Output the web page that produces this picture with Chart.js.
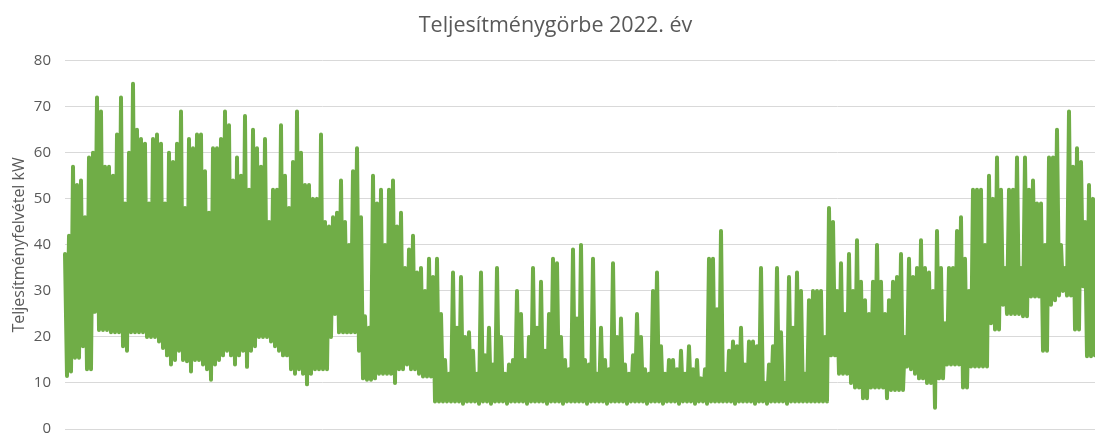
<!DOCTYPE html>
<html>
<head>
<meta charset="utf-8">
<script src="https://cdn.jsdelivr.net/npm/chart.js@4"></script>
<style>
html,body{margin:0;padding:0;background:#fff;overflow:hidden}
</style>
</head>
<body>
<canvas id="c" width="1095" height="433"></canvas>
<script>
// Title texts
const chartTitle = 'Teljesítménygörbe 2022. év';
const yAxisTitle = 'Teljesítményfelvétel kW';
const yTickValues = [0, 10, 20, 30, 40, 50, 60, 70, 80];

// Load (kW), per month: alternating local peak / local trough
const januar = [38,11.5, 42,12.5, 57,15.5, 53,15.5, 54,18, 46,13, 59,13, 60,25.5, 72,21.5, 69,21.5, 57,21.5,
  57,21, 55,21, 64,21, 72,18, 49,17, 60,21, 75,21, 65,21, 63,21, 62,20, 49,20];
const februar = [63,20, 64,19, 62,17.6, 49,16, 60,14, 58,15, 62,17, 69,15, 48,14.7, 63,12.5, 61,15, 64,15,
  64,14, 56,13, 47,10.7, 61,14, 61,15, 63,16, 69,17, 66,16];
const marcius = [54,14, 59,16, 55,17, 68,13.5, 52,17, 65,18, 61,20, 57,20, 63,20, 45,19, 52,18, 52,17,
  66,16, 55,16, 48,13, 58,12, 69,13, 60,12, 53,9.7, 53,12, 50,13, 50,13];
const aprilis = [64,13, 45,13, 44,20, 46,25, 47,21, 54,21, 45,21, 40,21, 56,21, 61,17, 46,11, 24.5,10.7,
  22,10.7, 55,11, 49,12, 52,12, 40,12, 52,12, 54,10, 44,13, 47,13];
const majus = [35,14, 39,13, 42,13, 34,12, 35,11.4, 30,11.4, 37,11.4, 33,6, 37,6, 25,6, 15,6, 12,6,
  34,6, 22,6, 33,5.5, 20,6, 21,6, 17,6, 12,5.5, 34,6, 16,6, 22,5.5];
const junius = [14,6, 35,6, 20,6, 12,5.5, 14,6, 15,6, 30,6, 25,6, 15,5.5, 20,6, 35,6, 22,6, 32,6,
  17,5.5, 25,6, 37,6, 36,6, 20,5.5, 15,6, 13,6, 39,6];
const julius = [24,6, 40,6, 15,5.5, 14,6, 37,6, 12,6, 22,6, 15,5.5, 13,6, 36,6, 20,6, 24,6, 14,5.5,
  12,6, 16,6, 25,6, 20,6, 13,5.5, 12,6, 30,6, 34,6, 18,5.5];
const augusztus = [12,6, 15,6, 15,6, 13,5.5, 17,6, 12,6, 18,6, 13,5.5, 15,6, 11,6, 13,5.5, 37,6, 37,6,
  26,6, 43,6, 12,6, 17,6, 19,5.5, 18,6, 22,6, 14,6, 19,6];
const szeptember = [19,5.5, 18,6, 35,6, 10,5.5, 14,6, 18,6, 35,6, 21,6, 10,5.5, 33,6, 22,6, 34,6, 30,6,
  12,6, 28,6, 30,6, 30,6, 30,6, 20,6, 48,16, 45,16];
const oktober = [30,12, 36,12, 25,12, 38,10, 30,9, 41,9, 32,6.7, 28,6.7, 25,9, 32,9, 40,9, 32,9, 25,6.7,
  28,8.5, 32,8.5, 33,8.5, 38,8.5, 20,13.6, 37,13, 33,12, 35,11, 41,11];
const november = [35,10, 34,10, 30,4.6, 43,11, 35,11, 23,14, 35,14, 35,14, 43,14, 46,9, 37,9, 30,13.6,
  52,13.6, 52,13.6, 52,13.6, 40,13.6, 55,23, 50,21.6, 59,21.6, 52,27, 35,25];
const december = [52,25, 52,25, 59,25, 35,24.5, 59,24.5, 52,28.8, 54,28.8, 49,28.8, 49,17, 40,17, 59,27,
  59,28, 65,29, 40,30, 35,29, 69,29, 57,21.6, 61,21.6, 58,31, 45,15.8, 53,15.8, 50,16];

const loadValues = [].concat(januar, februar, marcius, aprilis, majus, junius, julius,
  augusztus, szeptember, oktober, november, december);
const sampleLabels = loadValues.map((_, i) => i);

const GREY = '#595959';
new Chart(document.getElementById('c'), {
  type: 'line',
  data: {
    labels: sampleLabels,
    datasets: [{
      label: 'Teljesítményfelvétel',
      data: loadValues,
      borderColor: '#70AD47',
      backgroundColor: '#70AD47',
      borderWidth: 4,
      borderJoinStyle: 'round',
      borderCapStyle: 'round',
      tension: 0,
      pointRadius: 0,
      fill: false
    }]
  },
  options: {
    responsive: false,
    animation: false,
    layout: { padding: { left: 16, right: 0, top: 0, bottom: 4 } },
    plugins: {
      legend: { display: false },
      tooltip: { enabled: false },
      title: {
        display: true,
        text: chartTitle,
        color: GREY,
        font: { family: 'Open Sans', size: 21.5, weight: 'normal' },
        padding: { top: 13, bottom: 22 }
      }
    },
    scales: {
      x: { display: false },
      y: {
        min: yTickValues[0],
        max: yTickValues[yTickValues.length - 1],
        afterBuildTicks(scale) { scale.ticks = yTickValues.map(v => ({ value: v })); },
        ticks: { color: GREY, font: { family: 'Open Sans', size: 15 }, padding: 14 },
        grid: { color: '#D9D9D9', lineWidth: 1, drawTicks: false },
        border: { display: false },
        title: {
          display: true,
          text: yAxisTitle,
          color: GREY,
          font: { family: 'Open Sans', size: 16 },
          padding: { top: -6, bottom: 0 }
        },
        afterFit(scale) { scale.width = 49; scale.paddingTop = 0; scale.paddingBottom = 0; }
      }
    }
  }
});
</script>
</body>
</html>
